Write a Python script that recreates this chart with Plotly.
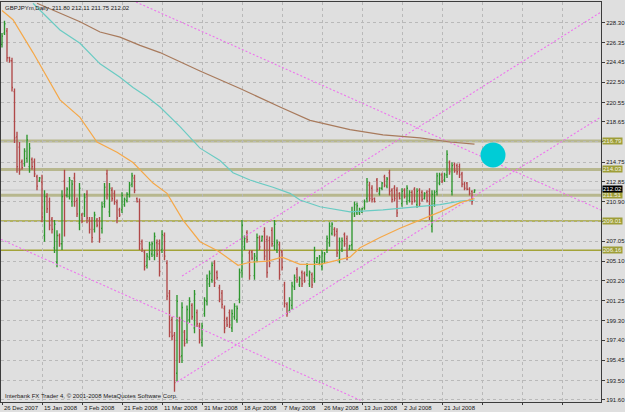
import plotly.graph_objects as go

# ---------------- data ----------------
symbol_title = "GBPJPYm,Daily  211.80 212.11 211.75 212.02"
copyright_text = "Interbank FX Trader 4, \u00a9 2001-2008 MetaQuotes Software Corp."

opens = [226.2,227.3,227.5,224.9,224.6,221.6,217.2,216.2,214.8,214.6,
215.1,214.3,215.0,214.8,213.3,212.9,212.8,207.6,211.4,210.9,
209.2,206.4,205.0,207.6,206.8,212.9,211.5,211.4,210.9,213.2,
211.0,208.8,209.6,209.7,211.6,209.1,209.0,208.2,209.1,209.0,
208.3,210.7,213.6,209.9,212.0,211.7,210.8,210.1,210.1,210.6,
211.0,211.6,212.6,213.2,211.2,210.9,207.0,206.0,204.7,205.5,
205.8,205.7,206.9,206.8,206.2,207.6,204.9,202.0,199.4,197.9,
194.2,199.3,195.9,198.2,197.5,199.4,200.8,198.6,200.1,198.8,
197.2,200.0,201.2,202.9,203.3,204.9,204.0,202.5,202.0,200.5,
199.5,200.1,198.6,199.7,199.4,201.4,204.2,206.5,207.9,205.9,
206.0,203.7,205.4,207.4,207.1,208.0,207.2,207.1,208.1,206.6,
206.2,206.7,206.0,202.8,200.9,200.3,200.8,202.6,204.3,202.8,
204.0,203.9,203.8,202.9,203.8,203.4,205.0,204.9,204.6,205.1,
206.2,206.9,207.8,208.2,208.0,205.3,206.3,207.7,207.3,206.3,
206.7,209.7,209.8,209.8,209.9,210.3,211.2,212.5,212.2,211.2,
213.0,211.7,212.2,213.3,212.4,213.7,212.0,212.2,212.0,211.7,
210.7,212.0,210.9,211.0,211.8,212.1,210.6,212.0,211.8,211.2,
211.8,211.9,208.5,210.7,211.9,212.7,213.5,213.0,213.5,214.7,
211.9,214.5,214.4,214.3,213.6,212.6,212.7,212.1,211.9,211.80]

highs = [227.3,228.5,227.8,225.0,224.9,221.9,217.7,216.7,215.0,216.1,
217.4,216.6,215.2,215.1,213.5,213.3,213.5,212.0,211.7,211.3,
209.4,209.1,208.1,207.8,212.0,214.0,212.3,213.3,213.0,213.7,
211.3,212.7,209.8,211.7,212.0,209.4,209.4,209.9,209.3,209.4,
210.9,212.7,214.0,212.7,212.3,212.0,211.1,210.3,211.8,211.3,
211.8,212.8,213.7,213.5,211.3,211.2,207.2,206.2,205.9,207.0,
207.0,207.9,207.2,207.2,208.1,207.9,205.2,202.3,199.7,198.2,
201.8,199.7,201.1,198.4,200.8,201.6,201.0,202.3,200.4,199.1,
199.1,201.6,203.8,204.2,205.0,205.2,204.2,202.8,202.3,200.8,
199.7,200.4,200.4,201.0,200.8,204.4,209.1,207.6,208.1,206.2,
206.2,205.9,207.8,207.6,207.6,208.4,207.6,207.5,208.4,209.1,
207.2,207.0,206.2,203.1,201.1,201.6,203.1,203.8,204.5,203.6,
204.2,204.1,204.9,204.2,204.0,206.5,205.5,205.7,206.2,206.0,
207.6,208.9,208.9,208.4,208.3,207.4,207.4,207.9,207.6,206.7,
210.4,210.9,210.8,210.3,210.3,211.1,213.2,212.8,212.5,211.3,
213.2,212.3,212.8,213.5,213.3,214.0,212.2,212.5,212.3,211.8,
212.2,212.2,212.5,212.0,212.0,212.3,212.2,212.2,212.0,211.8,
212.0,212.2,212.0,212.0,213.7,213.7,213.7,213.7,215.9,214.9,
214.7,214.7,214.6,214.6,213.8,212.8,212.8,212.3,212.0,212.11]

lows = [225.9,227.1,224.5,224.4,221.6,216.6,213.7,213.5,214.0,214.3,
214.7,213.7,214.0,213.3,212.0,212.8,208.9,207.0,209.8,208.1,
207.8,205.9,204.5,206.5,206.2,207.5,211.3,211.1,210.4,210.4,
209.4,208.1,208.8,209.4,208.8,207.8,206.9,207.9,208.4,206.9,
207.8,210.3,211.1,209.4,210.9,210.6,208.8,209.4,209.8,210.4,
210.8,211.3,212.3,211.7,210.8,206.2,206.0,204.2,204.4,205.2,
205.5,205.2,205.5,203.6,205.9,205.2,201.3,197.7,197.4,192.4,
193.4,195.2,195.2,196.8,197.1,199.1,199.4,198.1,198.7,197.1,
196.8,199.7,200.8,202.6,203.0,202.6,203.3,201.1,200.5,198.1,
198.7,198.6,198.2,199.4,199.1,201.0,203.5,206.2,206.9,203.3,
205.2,203.3,205.0,206.2,207.0,205.2,203.5,204.5,206.5,206.2,
205.9,203.3,204.2,200.6,199.7,200.1,200.4,202.3,203.0,202.6,
202.6,203.0,203.6,202.6,202.5,203.0,204.9,204.7,204.2,204.9,
205.9,206.5,207.6,207.5,205.5,204.9,206.0,206.5,205.2,206.2,
206.2,209.4,209.6,209.6,209.8,210.1,210.8,210.9,210.8,210.8,
211.8,211.5,212.0,212.3,212.2,211.5,210.8,210.9,209.4,211.1,
210.4,211.2,210.6,210.8,210.6,210.8,210.3,210.4,210.9,211.1,
210.8,209.1,207.9,210.4,211.5,212.5,212.7,212.8,213.2,213.5,
211.5,213.7,213.5,213.2,212.3,212.0,212.0,211.5,210.6,211.75]

closes = [227.0,228.2,224.9,224.6,222.0,217.1,214.3,214.0,214.2,215.8,
216.9,216.1,214.3,213.6,212.4,213.2,209.4,211.4,210.2,208.6,
208.2,208.7,207.6,206.8,211.4,211.5,212.1,213.0,212.6,210.9,
209.7,212.2,209.0,211.3,209.3,208.2,207.4,209.6,208.6,207.3,
210.4,212.3,211.6,212.2,211.2,210.9,209.3,209.6,211.5,211.1,
211.6,212.5,213.4,212.0,210.9,206.8,206.3,204.6,205.6,206.7,
206.8,207.5,205.8,204.1,207.7,205.6,201.7,198.2,197.8,193.3,
201.2,195.8,200.6,197.1,200.4,201.2,199.7,201.9,199.0,197.5,
198.8,201.3,203.4,203.9,204.7,203.0,203.5,201.4,200.9,198.6,
198.9,198.9,200.0,200.7,200.5,204.0,208.6,207.3,207.2,203.7,
205.4,205.6,207.4,206.5,207.5,205.6,204.0,204.9,206.8,208.7,
206.9,203.8,204.5,201.0,200.0,201.3,202.7,203.5,203.3,203.4,
202.9,203.2,204.7,204.0,202.8,206.1,205.4,205.5,205.9,205.8,
207.3,208.5,208.7,207.7,205.9,207.0,207.1,206.8,205.6,206.6,
209.9,210.6,210.5,210.1,210.2,210.9,212.8,211.2,211.1,210.9,
212.1,212.2,212.7,212.5,213.1,211.9,211.1,211.2,209.8,211.2,
211.9,211.4,212.2,211.8,210.9,211.0,211.9,210.7,211.1,211.7,
211.0,209.6,211.6,211.8,213.4,213.5,212.9,213.5,215.5,213.8,
214.4,213.9,213.8,213.5,212.6,212.2,212.1,211.7,210.9,212.02]

bars = list(range(len(opens)))

# date labels: one every 16 bars (grid continues into the empty right shift)
date_labels = ["26 Dec 2007", "15 Jan 2008", "3 Feb 2008", "21 Feb 2008", "11 Mar 2008",
               "31 Mar 2008", "18 Apr 2008", "7 May 2008", "26 May 2008", "13 Jun 2008",
               "2 Jul 2008", "21 Jul 2008"]
grid_bars = [0, 16, 32, 48, 64, 80, 96, 112, 128, 144, 160, 176, 192, 208, 224]

price_ticks = [191.60, 193.50, 195.45, 197.40, 199.30, 201.25, 203.20, 205.10, 207.05, 209.00,
               210.90, 212.85, 214.75, 216.70, 218.65, 220.55, 222.50, 224.45, 226.35, 228.30]
hidden_ticks = [209.00, 216.70]   # covered by the level boxes in the picture

# moving averages (sampled along the drawn curves)
ma_fast_bars = [0, 4.4, 12.4, 23.2, 31.2, 38, 46, 52.4, 60.4, 66, 72.4, 79.2, 86.4, 94.4, 99.2,
                106.4, 112, 119.2, 127.2, 135.2, 139.2, 143.2, 151.2, 159.2, 167.2, 175.2, 183.2, 189]
ma_fast_vals = [229.5, 228.6, 225.4, 220.8, 219.1, 216.7, 215.7, 214.7, 212.7, 211.7, 209.1, 207.0,
                206.1, 204.7, 205.0, 205.1, 205.5, 204.8, 204.8, 205.3, 205.5, 206.4, 207.4, 208.3,
                209.1, 209.9, 210.8, 211.2]
ma_mid_bars = [12.4, 19.2, 23.2, 31.2, 39.2, 47.2, 52.4, 58, 63.2, 71.2, 79.2, 87.2, 92.4, 99.2,
               108.4, 115.2, 119.2, 127.2, 139.2, 152.4, 166, 175.2, 183.2, 189]
ma_mid_vals = [230.2, 228.6, 227.6, 226.3, 224.3, 223.0, 222.0, 221.1, 220.1, 218.2, 216.1, 214.9,
               213.7, 213.0, 212.3, 211.7, 211.05, 210.4, 209.9, 210.1, 210.4, 210.6, 210.95, 211.05]
ma_slow_bars = [14, 31.2, 39.2, 47.2, 55.2, 63.2, 79.2, 95.2, 111.2, 123.2, 139.2, 152.4, 167.2, 179.2, 189]
ma_slow_vals = [230.2, 228.4, 227.4, 226.9, 226.1, 225.4, 223.6, 221.9, 220.1, 218.8, 217.9, 217.4,
                217.1, 216.7, 216.5]

# trend lines: (bar, price) end points
trend_lines = [
    ([53.6, 239.6], [230.32, 210.08]),
    ([-0.4, 144.0], [207.22, 191.50]),
    ([72.0, 239.6], [203.66, 229.34]),
    ([70.0, 239.6], [193.35, 219.13]),
]

levels_thick = [216.79, 214.03, 211.51]
levels_thin = [209.01, 206.16]
last_price = 212.02

circle_bar, circle_price = 196.4, 215.43

# ---------------- style ----------------
BG = "#DFDFDF"
GRID = "#B9B9B9"
AXIS = "#3C3C3C"
FONT = "Liberation Sans"
FS = 6
TXT = "#202020"

fig = go.Figure()

for xs, ys in trend_lines:
    fig.add_trace(go.Scatter(x=xs, y=ys, mode="lines",
                             line=dict(color="#EE74EE", width=1.1, dash="2px,2px"),
                             hoverinfo="skip"))

fig.add_trace(go.Scatter(x=ma_slow_bars, y=ma_slow_vals, mode="lines",
                         line=dict(color="#A87A5C", width=1.2), hoverinfo="skip"))
fig.add_trace(go.Scatter(x=ma_mid_bars, y=ma_mid_vals, mode="lines",
                         line=dict(color="#6ACBC3", width=1.2), hoverinfo="skip"))
fig.add_trace(go.Scatter(x=ma_fast_bars, y=ma_fast_vals, mode="lines",
                         line=dict(color="#F5A848", width=1.2), hoverinfo="skip"))

fig.add_trace(go.Ohlc(x=bars, open=opens, high=highs, low=lows, close=closes,
                      increasing=dict(line=dict(color="#2E962E", width=1.35)),
                      decreasing=dict(line=dict(color="#B04848", width=1.35)),
                      tickwidth=0.4, hoverinfo="skip"))

shapes = []
for lv in levels_thick:
    shapes.append(dict(type="line", xref="paper", x0=0, x1=1, yref="y", y0=lv, y1=lv,
                       line=dict(color="#B7B78E", width=3), layer="below"))
for lv in levels_thin:
    shapes.append(dict(type="line", xref="paper", x0=0, x1=1, yref="y", y0=lv, y1=lv,
                       line=dict(color="#A3A338", width=1.5), layer="below"))
shapes.append(dict(type="line", xref="paper", x0=0, x1=1, yref="y", y0=last_price, y1=last_price,
                   line=dict(color="#C6C6C6", width=1), layer="below"))
shapes.append(dict(type="circle", xref="x", yref="y", xsizemode="pixel", ysizemode="pixel",
                   xanchor=circle_bar, yanchor=circle_price, x0=-12.5, x1=12.5, y0=-12.5, y1=12.5,
                   fillcolor="#00CCD6", line=dict(width=0)))

annotations = [
    dict(text=symbol_title, xref="paper", yref="paper", x=0, y=1, xanchor="left", yanchor="top",
         xshift=2, yshift=-1, showarrow=False, font=dict(family=FONT, size=FS, color=TXT)),
    dict(text=copyright_text, xref="paper", yref="paper", x=0, y=0, xanchor="left", yanchor="bottom",
         xshift=2, yshift=1, showarrow=False, font=dict(family=FONT, size=FS, color=TXT)),
]
# date labels, left-aligned at their grid line, just under the frame
for b, lab in zip(grid_bars, date_labels):
    annotations.append(dict(text=lab, xref="x", yref="paper", x=b, y=0, xanchor="left",
                            yanchor="top", xshift=0, yshift=-1, showarrow=False,
                            font=dict(family=FONT, size=FS, color=TXT)))
for lv in levels_thick + levels_thin:
    annotations.append(dict(text=f"{lv:.2f}", xref="paper", yref="y", x=1, y=lv, xanchor="left",
                            yanchor="middle", xshift=1, showarrow=False, bgcolor="#9E9E38",
                            borderpad=0, font=dict(family=FONT, size=FS, color="#F4F4E4")))
annotations.append(dict(text=f"{last_price:.2f}", xref="paper", yref="y", x=1, y=last_price,
                        xanchor="left", yanchor="middle", xshift=1, yshift=1, showarrow=False,
                        bgcolor="#000000", borderpad=0,
                        font=dict(family=FONT, size=FS, color="#FFFFFF")))

fig.update_layout(
    width=625, height=412, autosize=False,
    margin=dict(l=1, r=24, t=2, b=10, pad=0),
    paper_bgcolor=BG, plot_bgcolor=BG,
    showlegend=False,
    shapes=shapes, annotations=annotations,
    font=dict(family=FONT, size=FS, color=TXT),
    xaxis=dict(range=[-0.4, 239.6], tickvals=grid_bars, showticklabels=False,
               ticks="outside", ticklen=2, tickcolor=AXIS,
               showgrid=True, gridcolor=GRID, griddash="dot", gridwidth=1,
               zeroline=False, showline=True, linecolor=AXIS, linewidth=1, mirror=True,
               rangeslider=dict(visible=False), automargin=False),
    yaxis=dict(range=[191.40, 230.32], side="right", tickvals=price_ticks,
               ticktext=["" if v in hidden_ticks else f"{v:.2f}" for v in price_ticks],
               ticks="outside", ticklen=3, tickcolor=AXIS,
               showgrid=True, gridcolor=GRID, griddash="dot", gridwidth=1,
               zeroline=False, showline=True, linecolor=AXIS, linewidth=1, mirror=True,
               tickfont=dict(family=FONT, size=FS, color=TXT), automargin=False),
)

fig.write_html("out.html")
